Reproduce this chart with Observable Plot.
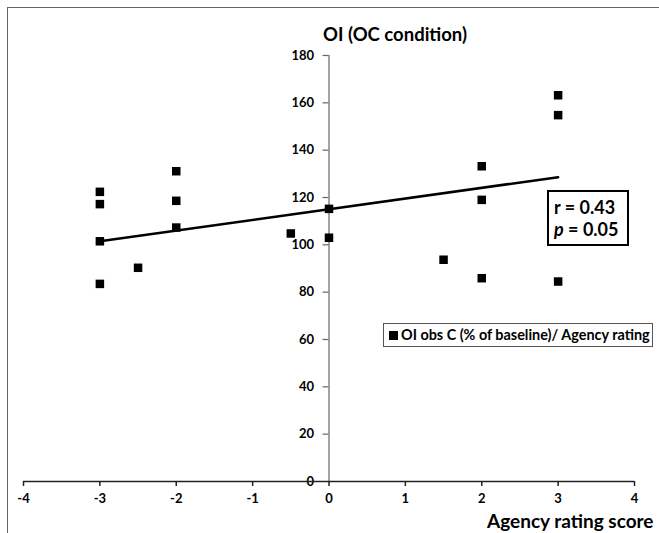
<!DOCTYPE html>
<html>
<head>
<meta charset="utf-8">
<script src="https://cdn.jsdelivr.net/npm/d3@7"></script>
<script src="https://cdn.jsdelivr.net/npm/@observablehq/plot@0.6"></script>
<style>
  html, body { margin: 0; padding: 0; background: #fff; }
  #wrap { position: relative; width: 659px; height: 533px; overflow: hidden; font-family: Lato, "Open Sans", sans-serif; color: #000; }
  #frame { position: absolute; left: 7px; top: 7px; width: 700px; height: 600px; border-left: 1.5px solid #666; border-top: 1.5px solid #666; }
  #chart { position: absolute; left: 0; top: 0; }
  .lbl { position: absolute; font-weight: bold; white-space: nowrap; line-height: 1; }
  #title { left: 323px; top: 25px; font-size: 18.5px; }
  #xlabel { left: 487px; top: 511px; font-size: 19px; }
  #legend { position: absolute; left: 383px; top: 323px; width: 270px; height: 24px; border: 1px solid #555; box-sizing: border-box; font-weight: bold; font-size: 14.4px; white-space: nowrap; }
  #legend .sw { position: absolute; left: 5px; top: 7px; width: 9px; height: 9px; background: #000; }
  #legend .tx { position: absolute; left: 17px; top: 4px; line-height: 1; }
  #stats { position: absolute; left: 547px; top: 190px; width: 82px; height: 56px; border: 2px solid #000; box-sizing: border-box; font-weight: bold; font-size: 18px; line-height: 22px; padding: 4px 0 0 5px; white-space: nowrap; }
</style>
</head>
<body>
<div id="wrap">
  <div id="frame"></div>
  <div id="chart"></div>
  <div class="lbl" id="title">OI (OC condition)</div>
  <div class="lbl" id="xlabel">Agency rating score</div>
  <div id="legend"><span class="sw"></span><span class="tx">OI obs C (% of baseline)/ Agency rating</span></div>
  <div id="stats">r = 0.43<br><i>p</i> = 0.05</div>
</div>
<script>
// Agency rating score (x) and OI obs C, % of baseline (y)
const agency = [-3, -3, -3, -3, -2.5, -2, -2, -2, -0.5, 0, 0, 1.5, 2, 2, 2, 3, 3, 3];
const oiObs  = [122.4, 117.2, 101.5, 83.5, 90.3, 131.1, 118.6, 107.3, 104.8, 115.2, 103.0, 93.7, 133.2, 119.0, 85.9, 163.2, 154.8, 84.5];
// trendline end points as drawn
const trendX = [-3, 3];
const trendY = [101.5, 128.6];
const xTicks = [-4, -3, -2, -1, 0, 1, 2, 3, 4];
const yTicks = [0, 20, 40, 60, 80, 100, 120, 140, 160, 180];

const points = agency.map((x, i) => ({x, y: oiObs[i]}));
const trend = trendX.map((x, i) => ({x, y: trendY[i]}));

const chart = Plot.plot({
  width: 659,
  height: 533,
  marginLeft: 23,
  marginRight: 25,
  marginTop: 55,
  marginBottom: 52,
  style: {fontFamily: "Lato, 'Open Sans', sans-serif", fontWeight: "bold", fontSize: "13px", color: "#000", background: "transparent"},
  x: {domain: [-4, 4]},
  y: {domain: [0, 180], axis: null},
  marks: [
    Plot.ruleX([0], {y1: 0, y2: 180, stroke: "#666", strokeWidth: 1.2}),
    Plot.ruleY(yTicks.filter(d => d > 0), {y: d => d, x1: 0, x2: 0, insetLeft: -6, stroke: "#666", strokeWidth: 1.2}),
    Plot.text(yTicks, {x: 0, y: d => d, text: d => String(d), dx: -15, textAnchor: "end"}),
    Plot.ruleY([0], {x1: -4, x2: 4, stroke: "#222", strokeWidth: 1.5}),
    Plot.axisX(xTicks, {tickSize: 5, tickPadding: 7, tickFormat: d => String(d), stroke: "#222", strokeWidth: 1.5, label: null}),
    Plot.line(trend, {x: "x", y: "y", stroke: "#000", strokeWidth: 2.5}),
    Plot.dot(points, {x: "x", y: "y", symbol: "square", r: 4.8, fill: "#000", stroke: "none"})
  ]
});
document.getElementById("chart").appendChild(chart);
</script>
</body>
</html>
